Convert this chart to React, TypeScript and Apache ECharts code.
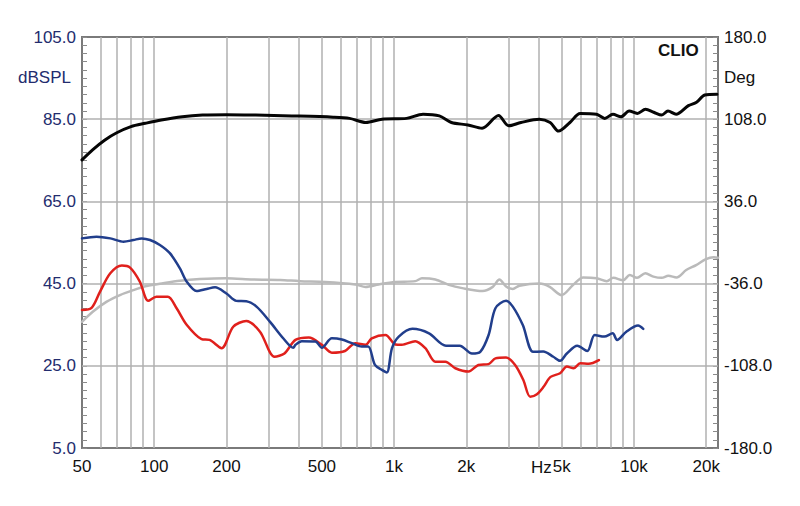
import React, { useEffect, useRef } from "react";
import * as echarts from "echarts";

const freqTicks = [50, 100, 200, 500, 1000, 2000, 5000, 10000, 20000];
const freqGrid = [60, 70, 80, 90, 100, 200, 300, 400, 500, 600, 700, 800, 900, 1000, 2000, 3000, 4000, 5000, 6000, 7000, 8000, 9000, 10000, 20000];
const splTicks = [5, 25, 45, 65, 85, 105];
const splGrid = [25, 45, 65, 85];
const degTicks = [-180, -108, -36, 36, 108, 180];

const blackFreq = [50, 55.2, 62.1, 69.8, 80, 91.8, 107, 131, 159, 200, 265, 375, 557, 652, 762, 891, 1127, 1320, 1544, 1734, 2030, 2327, 2725, 3005, 3380, 4033, 4473, 4848, 5407, 5967, 6978, 7550, 8170, 8830, 9550, 10330, 11170, 12080, 13060, 13860, 14980, 16860, 18230, 19720, 22170];
const blackSpl = [75.1, 77.5, 79.9, 81.7, 83.2, 84.0, 84.8, 85.6, 86.0, 86.1, 86.0, 85.8, 85.5, 85.2, 84.2, 85.0, 85.2, 86.2, 85.8, 84.2, 83.6, 82.8, 85.9, 83.4, 84.2, 85.0, 84.2, 82.1, 84.2, 86.4, 86.2, 85.2, 86.2, 85.6, 87.0, 86.4, 87.4, 86.7, 86.0, 87.0, 86.2, 88.3, 89.1, 90.9, 91.1];

const grayFreq = [50, 55.6, 63.4, 72, 81.8, 93, 109, 128, 155, 200, 258, 335, 405, 515, 689, 760, 862, 1012, 1225, 1306, 1486, 1691, 1924, 2337, 2578, 2748, 2930, 3125, 3330, 4040, 4455, 4990, 5580, 6140, 6990, 7700, 8200, 9010, 9600, 10300, 11150, 12050, 13050, 13900, 15040, 16510, 18160, 19850, 21520, 22400];
const graySpl = [35.7, 38.2, 40.6, 42.2, 43.4, 44.4, 45.1, 45.7, 46.1, 46.3, 46.0, 45.9, 45.6, 45.4, 44.8, 44.2, 44.8, 45.4, 45.6, 46.3, 46.0, 44.7, 43.9, 43.2, 44.2, 46.0, 44.3, 43.7, 44.5, 45.0, 44.2, 42.2, 44.7, 46.5, 46.3, 45.6, 46.4, 45.8, 47.1, 46.4, 47.5, 46.7, 46.4, 46.9, 46.5, 48.3, 49.5, 50.9, 51.4, 51.3];

const blueFreq = [50, 57.5, 65.6, 74.5, 81.8, 88.7, 96.1, 105.6, 116.2, 128, 136.5, 150.2, 165.4, 179.3, 200, 220, 242, 267, 304, 345, 380, 388, 412, 470, 500, 550, 606, 667, 733, 780, 832, 890, 933, 980, 1046, 1193, 1398, 1645, 1877, 2111, 2286, 2477, 2645, 2930, 3125, 3440, 3795, 4185, 4610, 4920, 5250, 5800, 6390, 6860, 7520, 8150, 8500, 9290, 10400, 10930];
const blueSpl = [56.0, 56.4, 56.0, 55.2, 55.6, 56.0, 55.6, 54.4, 52.4, 48.7, 45.5, 43.2, 43.7, 44.1, 42.6, 40.8, 40.7, 39.4, 35.7, 31.7, 29.4, 30.1, 31.0, 30.9, 29.4, 31.7, 31.4, 30.5, 29.7, 29.7, 25.2, 24.0, 23.4, 29.3, 32.1, 34.0, 32.9, 29.9, 29.9, 28.0, 28.4, 32.5, 39.0, 40.8, 39.4, 34.9, 28.4, 28.5, 27.2, 26.2, 28.0, 29.9, 28.6, 32.5, 32.1, 32.9, 31.3, 33.3, 34.8, 34.0];

const redFreq = [50, 54.8, 59.4, 65.6, 73.3, 79.3, 87.1, 94.4, 102.1, 114, 124, 136.5, 157.5, 170, 191, 213.5, 242, 276, 317.5, 349, 388, 441, 500, 550, 624, 689, 760, 807, 920, 1012, 1077, 1225, 1350, 1486, 1636, 1800, 2045, 2245, 2477, 2645, 2930, 3195, 3460, 3690, 3940, 4200, 4490, 4920, 5250, 5600, 5970, 6480, 7140];
const redSpl = [38.6, 39.1, 43.0, 47.5, 49.4, 48.9, 45.5, 40.8, 41.8, 41.8, 39.0, 35.0, 31.5, 31.3, 29.3, 34.5, 35.9, 33.3, 27.2, 28.0, 31.3, 31.9, 30.1, 28.2, 28.6, 30.5, 30.1, 31.7, 32.5, 30.2, 30.1, 31.0, 29.3, 26.0, 26.0, 24.4, 23.6, 25.2, 25.4, 26.8, 27.0, 25.2, 21.5, 17.5, 18.1, 19.9, 22.3, 23.2, 24.8, 24.4, 25.6, 25.5, 26.4];

const FONT = "'Liberation Sans', Arial, sans-serif";
const NAVY = "#232c6e";

function pairs(xs: number[], ys: number[]) {
  return xs.map((x, i) => [x, ys[i]]);
}

export default function App() {
  const ref = useRef<HTMLDivElement>(null);
  useEffect(() => {
    if (!ref.current) return;
    const chart = echarts.init(ref.current, undefined, { renderer: "svg" });
    const dbMinor: number[] = [];
    for (let i = 0; i <= 50; i++) dbMinor.push(5 + 2 * i);
    const degMinor: number[] = [];
    for (let i = 0; i <= 50; i++) degMinor.push(Math.round((-180 + 7.2 * i) * 10) / 10);

    const gridLine = { color: "#b0b0b0", width: 1.5, type: "solid" };
    const markLines = [
      ...freqGrid.map((f) => ({ xAxis: f })),
      ...splGrid.map((v) => ({ yAxis: v })),
    ];

    const mkSeries = (name: string, data: number[][], color: string, width: number, extra: any = {}) => ({
      name,
      type: "line",
      data,
      showSymbol: false,
      symbol: "none",
      smooth: 0.3,
      z: 3,
      lineStyle: { color, width, cap: "round", join: "round" },
      xAxisIndex: 0,
      yAxisIndex: 0,
      ...extra,
    });

    chart.setOption({
      animation: false,
      backgroundColor: "#ffffff",
      grid: {
        left: 82,
        right: 82,
        top: 37,
        bottom: 58,
        show: true,
        borderColor: "#7a7a7a",
        borderWidth: 2,
        backgroundColor: "transparent",
        outerBoundsMode: "none",
      },
      xAxis: {
        type: "log",
        logBase: 10,
        min: 50,
        max: 22400,
        axisLine: { show: false },
        axisTick: { show: false },
        splitLine: { show: false },
        minorTick: { show: false },
        axisLabel: {
          customValues: freqTicks,
          formatter: (v: number) => (v >= 1000 ? Math.round(v / 1000) + "k" : String(Math.round(v))),
          color: "#111",
          fontSize: 17,
          fontFamily: FONT,
          margin: 10,
        },
      },
      yAxis: [
        {
          type: "value",
          min: 5,
          max: 105,
          position: "left",
          axisLine: { show: false },
          axisTick: { show: true, inside: true, length: 5, customValues: dbMinor, lineStyle: { color: "#8a8a8a", width: 1 } },
          splitLine: { show: false },
          axisLabel: {
            customValues: splTicks,
            formatter: (v: number) => v.toFixed(1),
            color: NAVY,
            fontSize: 17,
            fontFamily: FONT,
            margin: 6,
          },
        },
        {
          type: "value",
          min: -180,
          max: 180,
          position: "right",
          axisLine: { show: false },
          axisTick: { show: true, inside: true, length: 5, customValues: degMinor, lineStyle: { color: "#8a8a8a", width: 1 } },
          splitLine: { show: false },
          axisLabel: {
            customValues: degTicks,
            formatter: (v: number) => v.toFixed(1),
            color: "#111",
            fontSize: 17,
            fontFamily: FONT,
            margin: 6,
          },
        },
      ],
      series: [
        mkSeries("gray", pairs(grayFreq, graySpl), "#bababa", 2.5, {
          markLine: {
            silent: true,
            z: 1,
            symbol: ["none", "none"],
            label: { show: false },
            lineStyle: gridLine,
            emphasis: { disabled: true },
            data: markLines,
          },
        }),
        mkSeries("black", pairs(blackFreq, blackSpl), "#050505", 3),
        mkSeries("red", pairs(redFreq, redSpl), "#e0201c", 2.5),
        mkSeries("blue", pairs(blueFreq, blueSpl), "#213e8c", 2.5),
      ],
      graphic: [
        { type: "text", left: 18, top: 69, style: { text: "dBSPL", fill: NAVY, font: `17px ${FONT}` } },
        { type: "text", left: 724, top: 69, style: { text: "Deg", fill: "#111", font: `17px ${FONT}` } },
        { type: "text", left: 658, top: 42, style: { text: "CLIO", fill: "#111", font: `bold 17px ${FONT}` } },
        { type: "text", left: 531, top: 459, style: { text: "Hz", fill: "#111", font: `17px ${FONT}` } },
      ],
    });
    return () => chart.dispose();
  }, []);
  return <div ref={ref} style={{ position: "fixed", left: 0, top: 0, width: 800, height: 506 }} />;
}
